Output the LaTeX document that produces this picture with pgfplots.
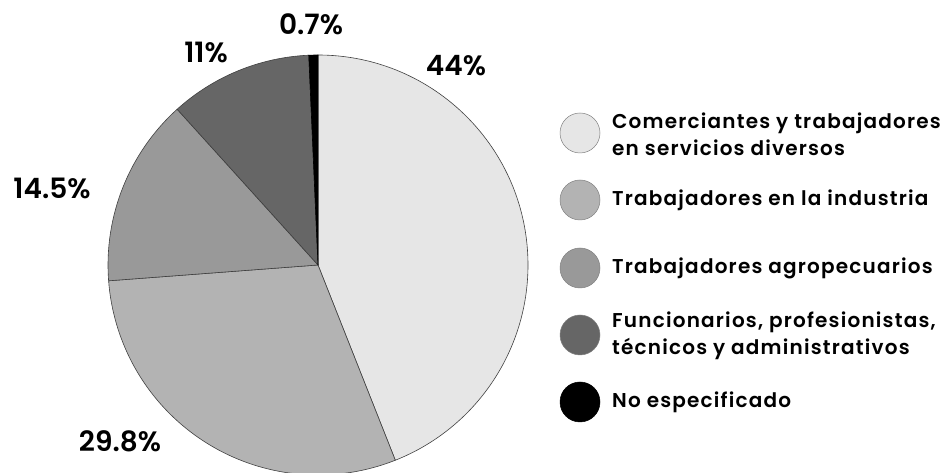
\documentclass[border=0pt]{standalone}
\usepackage{fontspec}
\setmainfont{Poppins}[BoldFont={Poppins SemiBold}]
\newfontfamily\legfont{Poppins SemiBold}[LetterSpace=6]
\usepackage{pgfplots}
\pgfplotsset{compat=1.18}

\definecolor{cCom}{HTML}{E6E6E6}
\definecolor{cInd}{HTML}{B3B3B3}
\definecolor{cAgr}{HTML}{999999}
\definecolor{cFun}{HTML}{666666}
\definecolor{cNo}{HTML}{000000}
\definecolor{edge}{HTML}{404040}

\begin{document}
\begin{tikzpicture}
\begin{axis}[
  width=951pt, height=473pt, scale only axis,
  xmin=0, xmax=951, ymin=0, ymax=473,
  hide axis, clip=false,
]
\coordinate (bl) at (axis cs:0,0);
\coordinate (tr) at (axis cs:951,473);
% pie: shares 44, 29.8, 14.5, 11, 0.7 (percent), clockwise from top
\filldraw[fill=cCom,draw=edge,line width=0.6pt] (axis cs:318,208) -- ++(90:210pt)
  arc[start angle=90, end angle=-68.4, radius=210pt] -- cycle;
\filldraw[fill=cInd,draw=edge,line width=0.6pt] (axis cs:318,208) -- ++(-68.4:210pt)
  arc[start angle=-68.4, end angle=-175.68, radius=210pt] -- cycle;
\filldraw[fill=cAgr,draw=edge,line width=0.6pt] (axis cs:318,208) -- ++(-175.68:210pt)
  arc[start angle=-175.68, end angle=-227.88, radius=210pt] -- cycle;
\filldraw[fill=cFun,draw=edge,line width=0.6pt] (axis cs:318,208) -- ++(-227.88:210pt)
  arc[start angle=-227.88, end angle=-267.48, radius=210pt] -- cycle;
\filldraw[fill=cNo,draw=black,line width=0.6pt] (axis cs:318,208) -- ++(-267.48:210pt)
  arc[start angle=-267.48, end angle=-270, radius=210pt] -- cycle;

% slice labels
\begin{scope}[every node/.style={font=\fontsize{28}{30}\selectfont\bfseries}]
\node at (axis cs:456,407) {44\%};
\node at (axis cs:120,32) {29.8\%};
\node at (axis cs:52,285) {14.5\%};
\node at (axis cs:206,421) {11\%};
\node at (axis cs:311,449) {0.7\%};
\end{scope}

% legend
\addplot[only marks,mark=*,mark size=20pt,mark options={fill=cCom,draw=gray,line width=0.5pt}] coordinates {(580,340)};
\addplot[only marks,mark=*,mark size=20pt,mark options={fill=cInd,draw=gray,line width=0.5pt}] coordinates {(580,273)};
\addplot[only marks,mark=*,mark size=20pt,mark options={fill=cAgr,draw=gray,line width=0.5pt}] coordinates {(580,205)};
\addplot[only marks,mark=*,mark size=20pt,mark options={fill=cFun,draw=gray,line width=0.5pt}] coordinates {(580,138)};
\addplot[only marks,mark=*,mark size=20pt,mark options={fill=cNo,draw=black,line width=0.5pt}] coordinates {(580,71)};
\begin{scope}[every node/.style={anchor=west,align=left,inner sep=0pt,
    font=\fontsize{20}{27}\legfont}]
\node at (axis cs:612,339) {Comerciantes y trabajadores\\en servicios diversos};
\node at (axis cs:612,273) {Trabajadores en la industria};
\node at (axis cs:612,205) {Trabajadores agropecuarios};
\node at (axis cs:612,137) {Funcionarios, profesionistas,\\técnicos y administrativos};
\node at (axis cs:612,71) {No especificado};
\end{scope}
\end{axis}
\pgfresetboundingbox
\useasboundingbox (bl) rectangle (tr);
\end{tikzpicture}
\end{document}
